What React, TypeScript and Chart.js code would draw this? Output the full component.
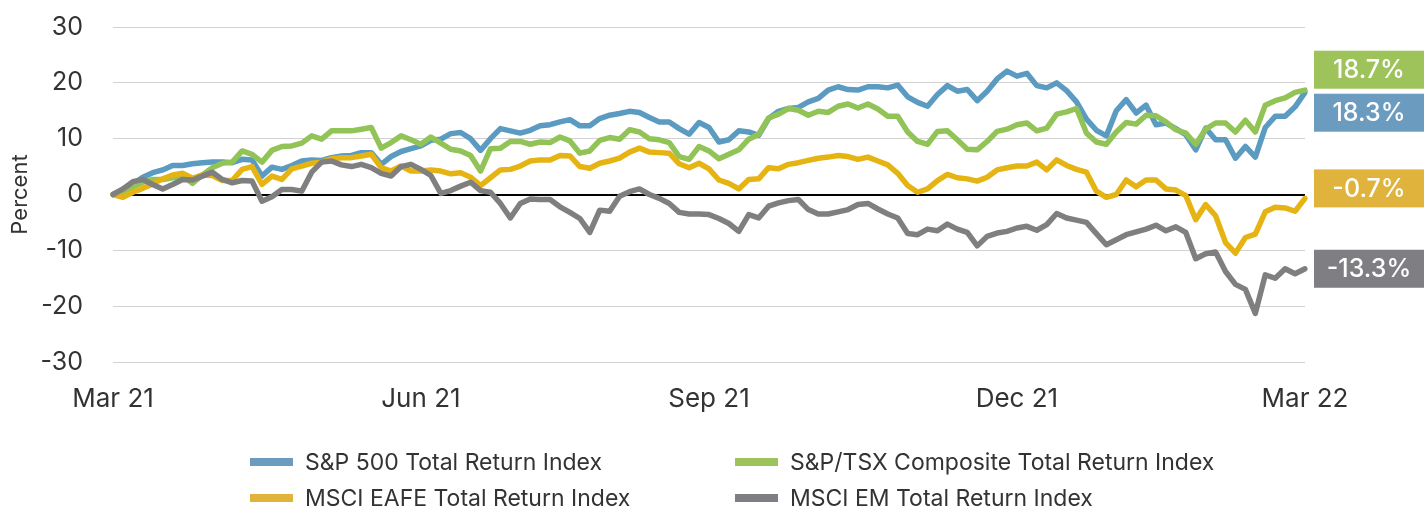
import React, { useEffect, useRef } from "react";
import { Chart, registerables } from "chart.js";

Chart.register(...registerables);

const tickLabels = ["Mar 21", "Jun 21", "Sep 21", "Dec 21", "Mar 22"];
const tickIndex = [0, 31, 60, 91, 120];

const seriesNames = [
  "S&P 500 Total Return Index",
  "S&P/TSX Composite Total Return Index",
  "MSCI EAFE Total Return Index",
  "MSCI EM Total Return Index",
];

const sp500 = [
  0, 0.6, 1.8, 3.1, 3.9, 4.4, 5.2, 5.2, 5.5, 5.7,
  5.8, 5.8, 5.7, 6.3, 6.2, 3.3, 4.9, 4.5, 5.2, 6.0,
  6.2, 6.1, 6.6, 6.9, 7.0, 7.5, 7.5, 5.4, 6.8, 7.7,
  8.2, 8.7, 9.7, 9.9, 10.9, 11.1, 10.0, 7.9, 10.0, 11.8,
  11.4, 11.0, 11.5, 12.3, 12.5, 13.0, 13.4, 12.3, 12.3, 13.6,
  14.2, 14.5, 14.9, 14.7, 13.8, 13.0, 13.0, 11.8, 10.8, 12.9,
  12.0, 9.4, 9.8, 11.4, 11.2, 10.6, 13.6, 14.9, 15.4, 15.6,
  16.6, 17.2, 18.7, 19.3, 18.8, 18.7, 19.3, 19.3, 19.1, 19.6,
  17.5, 16.5, 15.8, 17.9, 19.5, 18.5, 18.8, 16.8, 18.5, 20.7,
  22.1, 21.2, 21.7, 19.5, 19.1, 20.0, 18.6, 16.6, 13.5, 11.5,
  10.5, 15.0, 17.0, 14.6, 16.0, 12.5, 12.8, 11.8, 10.7, 8.0,
  11.9, 9.8, 9.8, 6.5, 8.6, 6.7, 12.0, 14.0, 14.0, 15.7,
  18.3,
];

const tsx = [
  0, 0.5, 1.4, 2.2, 2.7, 2.7, 3.0, 3.4, 2.0, 3.5,
  4.8, 5.6, 5.8, 7.8, 7.2, 5.8, 7.9, 8.6, 8.7, 9.2,
  10.5, 9.9, 11.4, 11.4, 11.4, 11.7, 12.0, 8.3, 9.3, 10.5,
  9.8, 9.0, 10.3, 9.2, 8.1, 7.8, 7.0, 4.2, 8.2, 8.3,
  9.5, 9.5, 9.0, 9.4, 9.3, 10.3, 9.6, 7.4, 7.8, 9.7,
  10.2, 9.9, 11.6, 11.2, 10.0, 9.8, 9.3, 6.8, 6.3, 8.6,
  7.8, 6.4, 7.2, 8.0, 9.9, 10.8, 13.7, 14.4, 15.4, 15.1,
  14.2, 14.9, 14.7, 15.8, 16.2, 15.5, 16.2, 15.3, 14.0, 14.0,
  11.2, 9.5, 9.0, 11.3, 11.4, 9.8, 8.1, 8.0, 9.5, 11.3,
  11.7, 12.5, 12.8, 11.4, 11.9, 14.4, 14.8, 15.4, 11.0, 9.4,
  9.0, 11.2, 12.9, 12.6, 14.2, 14.1, 13.0, 11.6, 11.0, 9.0,
  11.7, 12.8, 12.8, 11.2, 13.3, 11.2, 16.0, 16.8, 17.3, 18.3,
  18.7,
];

const eafe = [
  0, -0.5, 0.4, 1.1, 1.9, 2.8, 3.5, 3.8, 2.9, 3.5,
  3.4, 2.5, 2.5, 4.5, 5.0, 1.8, 3.3, 2.7, 4.6, 5.1,
  5.6, 5.8, 6.4, 6.6, 6.6, 6.9, 7.2, 4.8, 4.2, 5.1,
  4.2, 4.2, 4.4, 4.2, 3.7, 3.9, 3.1, 1.6, 3.0, 4.4,
  4.5, 5.1, 6.0, 6.2, 6.2, 7.0, 6.9, 5.0, 4.7, 5.6,
  6.0, 6.5, 7.6, 8.3, 7.6, 7.5, 7.4, 5.5, 4.8, 5.6,
  4.6, 2.6, 2.0, 1.0, 2.7, 2.8, 4.8, 4.6, 5.4, 5.7,
  6.1, 6.5, 6.7, 7.0, 6.8, 6.3, 6.7, 6.0, 5.3, 3.8,
  1.6, 0.4, 1.0, 2.5, 3.6, 3.0, 2.8, 2.4, 3.1, 4.4,
  4.8, 5.1, 5.1, 5.8, 4.4, 6.2, 5.2, 4.5, 4.0, 0.6,
  -0.5, 0, 2.6, 1.4, 2.6, 2.6, 1.0, 0.8, -0.2, -4.5,
  -1.8, -3.8, -8.6, -10.5, -7.7, -7.1, -3.1, -2.3, -2.4, -3.0,
  -0.7,
];

const em = [
  0, 1.0, 2.3, 2.7, 1.8, 1.0, 1.8, 2.7, 2.6, 3.3,
  4.0, 2.7, 2.1, 2.5, 2.4, -1.2, -0.4, 0.9, 0.9, 0.6,
  4.0, 5.8, 6.0, 5.3, 5.0, 5.4, 4.8, 3.8, 3.3, 5.0,
  5.4, 4.5, 3.4, 0.2, 0.7, 1.5, 2.2, 0.7, 0.4, -1.6,
  -4.2, -1.6, -0.8, -0.9, -0.9, -2.2, -3.2, -4.3, -6.8, -2.8,
  -3.0, -0.3, 0.5, 1.0, 0, -0.7, -1.6, -3.2, -3.5, -3.5,
  -3.6, -4.3, -5.2, -6.6, -3.6, -4.2, -2.1, -1.5, -1.1, -0.9,
  -2.7, -3.5, -3.5, -3.1, -2.7, -1.8, -1.6, -2.6, -3.5, -4.2,
  -7.0, -7.2, -6.2, -6.5, -5.3, -6.2, -6.8, -9.2, -7.5, -6.9,
  -6.6, -6.0, -5.7, -6.4, -5.4, -3.4, -4.2, -4.6, -5.0, -7.0,
  -9.0, -8.1, -7.2, -6.7, -6.2, -5.5, -6.5, -5.8, -6.8, -11.5,
  -10.6, -10.3, -13.8, -16.1, -17.0, -21.3, -14.4, -15.0, -13.3, -14.2,
  -13.3,
];

const endLabels = ["18.3%", "18.7%", "-0.7%", "-13.3%"];

const lineColors = ["#5b9bc2", "#92c356", "#e6b412", "#7f7f80"];
const boxColors = ["#6b9bbf", "#9dc35a", "#e0b33d", "#7f7e83"];
const drawOrder = [4, 3, 2, 1];
const labelNudge = [0, 0, -10, 0];

const FONT = "Inter, 'Open Sans', sans-serif";
const TEXT = "#333333";

const overlayPlugin = {
  id: "overlay",
  afterDraw(chart: any) {
    const ctx = chart.ctx;
    const area = chart.chartArea;
    const yScale = chart.scales.y;
    const series = [sp500, tsx, eafe, em];

    const boxH = 38;
    const gap = 5;
    const items = series.map((s, i) => ({
      i,
      y: yScale.getPixelForValue(s[s.length - 1]) + labelNudge[i],
    }));
    items.sort((a, b) => a.y - b.y);
    let changed = true;
    let guard = 0;
    while (changed && guard < 20) {
      changed = false;
      guard++;
      for (let k = 1; k < items.length; k++) {
        const need = boxH + gap;
        const d = items[k].y - items[k - 1].y;
        if (d < need - 0.01) {
          const mid = (items[k].y + items[k - 1].y) / 2;
          items[k - 1].y = mid - need / 2;
          items[k].y = mid + need / 2;
          changed = true;
        }
      }
    }
    const bx = area.right + 9;
    const bw = chart.width - bx;
    ctx.save();
    items.forEach((it) => {
      ctx.fillStyle = boxColors[it.i];
      ctx.fillRect(bx, it.y - boxH / 2, bw, boxH);
      ctx.fillStyle = "#ffffff";
      ctx.font = `500 25px ${FONT}`;
      ctx.textAlign = "center";
      ctx.textBaseline = "middle";
      ctx.fillText(endLabels[it.i], bx + bw / 2, it.y + 1);
    });

    const colX = [250, 735];
    const rowY = [462, 498];
    seriesNames.forEach((name, i) => {
      const x = colX[i % 2];
      const y = rowY[Math.floor(i / 2)];
      ctx.fillStyle = boxColors[i];
      ctx.fillRect(x, y - 4, 43, 8);
      ctx.fillStyle = TEXT;
      ctx.font = `23px ${FONT}`;
      ctx.textAlign = "left";
      ctx.textBaseline = "middle";
      ctx.fillText(name, x + 55, y + 1);
    });
    ctx.restore();
  },
};

export default function App() {
  const ref = useRef<HTMLCanvasElement | null>(null);

  useEffect(() => {
    document.body.style.margin = "0";
    const canvas = ref.current;
    if (!canvas) return;
    const labels = sp500.map((_, i) => {
      const k = tickIndex.indexOf(i);
      return k >= 0 ? tickLabels[k] : "";
    });
    const series = [sp500, tsx, eafe, em];
    const chart = new Chart(canvas, {
      type: "line",
      data: {
        labels,
        datasets: series.map((s, i) => ({
          label: seriesNames[i],
          data: s,
          borderColor: lineColors[i],
          backgroundColor: lineColors[i],
          borderWidth: 5.5,
          pointRadius: 0,
          tension: 0,
          borderJoinStyle: "round" as const,
          borderCapStyle: "round" as const,
          order: drawOrder[i],
        })),
      },
      options: {
        animation: false,
        responsive: false,
        devicePixelRatio: 1,
        layout: { padding: { left: 0, right: 119, top: 27, bottom: 86 } },
        plugins: {
          legend: { display: false },
          tooltip: { enabled: false },
        },
        scales: {
          x: {
            type: "category",
            grid: { display: false },
            border: { display: false },
            ticks: {
              autoSkip: false,
              maxRotation: 0,
              padding: 14,
              color: TEXT,
              font: { family: FONT, size: 26 },
              callback: (_v: any, idx: number) => labels[idx],
            },
            afterFit: (scale: any) => {
              scale.height = 60;
            },
          },
          y: {
            min: -30,
            max: 30,
            border: { display: false },
            grid: {
              drawTicks: false,
              color: (c: any) => (c.tick && c.tick.value === 0 ? "#000000" : "#d2d2d2"),
              lineWidth: (c: any) => (c.tick && c.tick.value === 0 ? 2 : 1),
            },
            ticks: {
              stepSize: 10,
              padding: 30,
              color: TEXT,
              font: { family: FONT, size: 25 },
            },
            title: {
              display: true,
              text: "Percent",
              color: TEXT,
              font: { family: FONT, size: 22 },
              padding: { top: 7, bottom: 0 },
            },
            afterFit: (scale: any) => {
              scale.width = 113;
              scale.paddingTop = 10;
              scale.paddingBottom = 10;
            },
          },
        },
      },
      plugins: [overlayPlugin],
    });
    return () => chart.destroy();
  }, []);

  return (
    <div style={{ width: 1424, height: 508, position: "relative" }}>
      <canvas ref={ref} width={1424} height={508} style={{ display: "block" }} />
    </div>
  );
}
